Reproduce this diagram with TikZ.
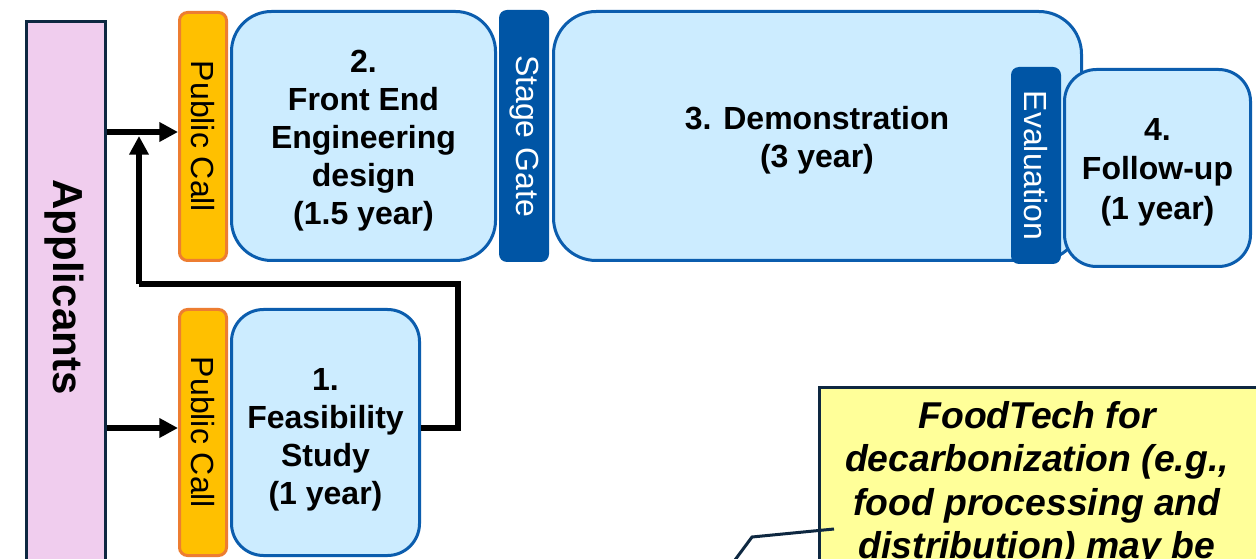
\documentclass[tikz,border=0pt]{standalone}
\usepackage{fontspec}
\setmainfont{Liberation Sans}
\usetikzlibrary{arrows.meta}
\definecolor{appfill}{HTML}{F0CDEE}
\definecolor{navy}{HTML}{0E2841}
\definecolor{boxfill}{HTML}{CCECFF}
\definecolor{boxdraw}{HTML}{0B5DAE}
\definecolor{gate}{HTML}{0055A5}
\definecolor{pcfill}{HTML}{FFC000}
\definecolor{pcdraw}{HTML}{ED7D31}
\definecolor{notefill}{HTML}{FFFF99}
\begin{document}
\begin{tikzpicture}[x=0.75pt,y=-0.75pt,
  stagebox/.style={draw=boxdraw, fill=boxfill, line width=2.25pt, inner sep=0pt},
  boxtext/.style={align=center, inner sep=0pt, font=\bfseries\fontsize{24}{28.5}\selectfont},
  callbar/.style={draw=pcdraw, fill=pcfill, line width=2.25pt, rounded corners=6pt,
    inner sep=0pt, minimum width=35.25pt, font=\fontsize{24}{28}\selectfont},
  gatebar/.style={fill=gate, text=white, rounded corners=6pt, inner sep=0pt,
    minimum width=37.5pt, font=\fontsize{24}{28}\selectfont},
  flow/.style={line width=4pt, -{Triangle[length=14pt,width=14pt]}},
  flowline/.style={line width=4pt},
]
\useasboundingbox (0,0) rectangle (1256,559);
\fill[white] (0,0) rectangle (1256,559);

% Applicants
\node[draw=navy, fill=appfill, line width=2.25pt, minimum width=59.25pt,
  minimum height=508.9pt, inner sep=0pt] (app) at (66,360.75) {};
\node[font=\bfseries\fontsize{31.5}{36}\selectfont, inner sep=0pt] (applbl) at (64,287)
  {\rotatebox{-90}{Applicants}};

% Top row
\node[callbar, minimum height=186pt] (pc2) at (203,136.5) {\rotatebox{-90}{Public Call}};
\node[stagebox, rounded corners=30pt, minimum width=198pt, minimum height=186.75pt] (fe)
  at (363.5,136) {};
\node[boxtext] (fetext) at (363.5,141) {2.\\Front End\\Engineering\\design\\(1.5 year)};
\node[gatebar, minimum height=189pt] (sg) at (524,136) {\rotatebox{-90}{Stage Gate}};
\node[stagebox, rounded corners=32pt, minimum width=396pt, minimum height=186.75pt] (demo)
  at (817.5,136) {};
\node[boxtext] (demotext) at (817,140) {3. Demonstration\\(3 year)};
\node[gatebar, minimum height=147.75pt] (eval) at (1036,165.5) {\rotatebox{-90}{Evaluation}};
\node[stagebox, rounded corners=24pt, minimum width=139.5pt, minimum height=147.75pt] (fu)
  at (1157.5,168) {};
\node[boxtext, font=\bfseries\fontsize{24}{29.5}\selectfont] (futext) at (1157.5,172)
  {4.\\Follow-up\\(1 year)};

% Bottom row
\node[callbar, minimum height=184.5pt] (pc1) at (203,432.5) {\rotatebox{-90}{Public Call}};
\node[stagebox, rounded corners=24pt, minimum width=141pt, minimum height=184.5pt] (fs)
  at (325.5,432.5) {};
\node[boxtext] (fstext) at (325.5,439.5) {1.\\Feasibility\\Study\\(1 year)};

% Connectors
\draw[flow] (app.east |- 0,132) -- (pc2.west |- 0,132);
\draw[flow] (app.east |- 0,428) -- (pc1.west |- 0,428);
\coordinate (fb1) at (458,284);
\coordinate (fb2) at (139,284);
\coordinate (fb3) at (139,136);
\draw[flowline, line join=miter] (fs.east |- 0,428) -| (fb1) -- (fb2);
\draw[flow] (fb2) -- (fb3);

% Callout note
\node[draw=navy, fill=notefill, line width=2.25pt, minimum width=328pt,
  minimum height=234.4pt, inner sep=0pt] (note) at (1038.5,543.75) {};
\coordinate (cp0) at (834,529);
\coordinate (cp1) at (752,537);
\coordinate (cp2) at (732,564);
\draw[navy, line width=2.25pt] (cp0) -- (cp1) -- (cp2);
\node[align=center, anchor=north, inner sep=0pt,
  font=\bfseries\itshape\fontsize{28}{32.6}\selectfont] (notetext) at (1037,401)
  {FoodTech for\\decarbonization (e.g.,\\food processing and\\distribution) may be};
\end{tikzpicture}
\end{document}
